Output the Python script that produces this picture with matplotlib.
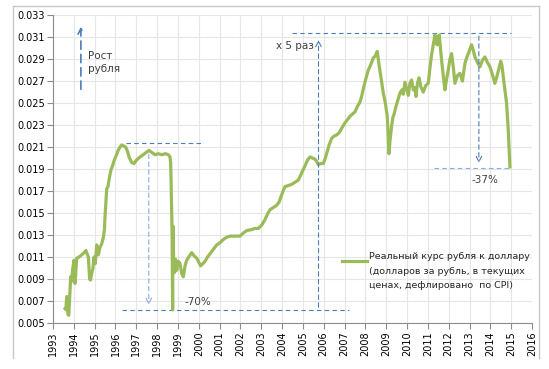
import matplotlib
matplotlib.use("Agg")
import matplotlib.pyplot as plt
from matplotlib.lines import Line2D

years = [
    1993.58, 1993.62, 1993.66, 1993.70, 1993.72, 1993.76, 1993.80, 1993.85, 1993.90, 1993.94,
    1994.01, 1994.06, 1994.10, 1994.14, 1994.25, 1994.38, 1994.50, 1994.58, 1994.70, 1994.76,
    1994.80, 1994.86, 1994.92, 1994.97, 1995.03, 1995.10, 1995.18, 1995.26, 1995.34, 1995.42,
    1995.47, 1995.50, 1995.55, 1995.58, 1995.64, 1995.69, 1995.78, 1995.86, 1995.94, 1996.05,
    1996.13, 1996.22, 1996.30, 1996.40, 1996.49, 1996.58, 1996.65, 1996.78, 1996.89, 1997.00,
    1997.18, 1997.40, 1997.61, 1997.75, 1997.90, 1998.05, 1998.22, 1998.40, 1998.54, 1998.62,
    1998.65, 1998.67, 1998.70, 1998.72, 1998.745, 1998.76, 1998.78, 1998.80, 1998.84, 1998.88,
    1998.94, 1999.02, 1999.10, 1999.18, 1999.26, 1999.34, 1999.42, 1999.52, 1999.66, 1999.78,
    1999.90, 2000.09, 2000.20, 2000.30, 2000.42, 2000.54, 2000.70, 2000.86, 2001.02, 2001.18,
    2001.34, 2001.50, 2001.75, 2001.98, 2002.15, 2002.30, 2002.55, 2002.70, 2002.86, 2003.02,
    2003.18, 2003.30, 2003.42, 2003.58, 2003.74, 2003.86, 2003.95, 2004.05, 2004.14, 2004.30,
    2004.46, 2004.62, 2004.78, 2004.86, 2004.98, 2005.10, 2005.22, 2005.34, 2005.46, 2005.58,
    2005.66, 2005.74, 2005.86, 2005.98, 2006.06, 2006.14, 2006.26, 2006.38, 2006.50, 2006.62,
    2006.74, 2006.86, 2007.02, 2007.14, 2007.26, 2007.38, 2007.50, 2007.62, 2007.74, 2007.82,
    2007.90, 2008.02, 2008.14, 2008.26, 2008.38, 2008.48, 2008.57, 2008.62, 2008.67, 2008.76,
    2008.86, 2008.96, 2009.05, 2009.10, 2009.13, 2009.18, 2009.26, 2009.32, 2009.38, 2009.47,
    2009.55, 2009.66, 2009.75, 2009.82, 2009.90, 2009.98, 2010.06, 2010.14, 2010.22, 2010.30,
    2010.38, 2010.43, 2010.50, 2010.58, 2010.66, 2010.78, 2010.90, 2011.02, 2011.10, 2011.18,
    2011.26, 2011.34, 2011.40, 2011.45, 2011.50, 2011.55, 2011.60, 2011.66, 2011.74, 2011.82,
    2011.90, 2011.98, 2012.06, 2012.14, 2012.22, 2012.30, 2012.42, 2012.54, 2012.66, 2012.78,
    2012.86, 2012.94, 2013.02, 2013.10, 2013.18, 2013.26, 2013.38, 2013.50, 2013.62, 2013.74,
    2013.86, 2013.98, 2014.10, 2014.22, 2014.30, 2014.38, 2014.46, 2014.50, 2014.56, 2014.62,
    2014.70, 2014.78, 2014.86, 2014.90, 2014.94,
]
rate = [
    0.0063, 0.0062, 0.0074, 0.0073, 0.0058, 0.0057, 0.0072, 0.0092, 0.0088, 0.0098,
    0.0107, 0.0086, 0.0098, 0.0109, 0.0110, 0.0112, 0.0114, 0.0116, 0.0110, 0.0090,
    0.0089, 0.0095, 0.0100, 0.0110, 0.0104, 0.0121, 0.0112, 0.0119, 0.0122, 0.0128,
    0.0135, 0.0147, 0.0162, 0.0172, 0.0174, 0.0180, 0.0189, 0.0193, 0.0198, 0.0203,
    0.0207, 0.0210, 0.0212, 0.0211, 0.0210, 0.0206, 0.0201, 0.0196, 0.0195, 0.0198,
    0.0201, 0.0204, 0.0207, 0.0205, 0.0203, 0.0204, 0.0203, 0.0204, 0.0203, 0.0201,
    0.0196, 0.0180, 0.0150, 0.0130, 0.0062, 0.0138, 0.0118, 0.0104, 0.0096, 0.0108,
    0.0098, 0.0106, 0.0104, 0.0095, 0.0092, 0.0102, 0.0107, 0.0110, 0.0114, 0.0111,
    0.0109, 0.0102, 0.0104, 0.0106, 0.0110, 0.0113, 0.0117, 0.0121, 0.0123, 0.0126,
    0.0128, 0.0129, 0.0129, 0.0129, 0.0132, 0.0134, 0.0135, 0.0136, 0.0136, 0.0139,
    0.0144, 0.0149, 0.0153, 0.0155, 0.0157, 0.0160, 0.0165, 0.0170, 0.0174, 0.0175,
    0.0176, 0.0178, 0.0180, 0.0183, 0.0188, 0.0193, 0.0198, 0.0201, 0.0200, 0.0199,
    0.0197, 0.0194, 0.0195, 0.0195, 0.0199, 0.0204, 0.0212, 0.0218, 0.0220, 0.0221,
    0.0223, 0.0227, 0.0232, 0.0235, 0.0238, 0.0240, 0.0242, 0.0247, 0.0251, 0.0256,
    0.0263, 0.0272, 0.0280, 0.0285, 0.0291, 0.0293, 0.0297, 0.0290, 0.0283, 0.0272,
    0.0259, 0.0250, 0.0238, 0.0220, 0.0204, 0.0215, 0.0229, 0.0237, 0.0240, 0.0247,
    0.0252, 0.0259, 0.0262, 0.0258, 0.0269, 0.0263, 0.0257, 0.0268, 0.0271, 0.0262,
    0.0264, 0.0256, 0.0268, 0.0273, 0.0265, 0.0260, 0.0266, 0.0268, 0.0282, 0.0294,
    0.0303, 0.0312, 0.0305, 0.0303, 0.0311, 0.0312, 0.0301, 0.0289, 0.0275, 0.0262,
    0.0272, 0.0280, 0.0290, 0.0295, 0.0283, 0.0268, 0.0275, 0.0277, 0.0270, 0.0286,
    0.0291, 0.0295, 0.0299, 0.0303, 0.0298, 0.0292, 0.0287, 0.0283, 0.0289, 0.0292,
    0.0287, 0.0283, 0.0276, 0.0268, 0.0273, 0.0279, 0.0285, 0.0288, 0.0284, 0.0274,
    0.0262, 0.0250, 0.0226, 0.0210, 0.0192,
]
year_ticks = list(range(1993, 2017))
rate_ticks = [0.005, 0.007, 0.009, 0.011, 0.013, 0.015, 0.017, 0.019, 0.021,
              0.023, 0.025, 0.027, 0.029, 0.031, 0.033]
legend_label = ("Реальный курс рубля к доллару\n"
                "(долларов за рубль, в текущих\n"
                "ценах, дефлировано  по CPI)")

GREEN = "#9bbb59"
BLUE = "#4a7ebb"
LIGHT_BLUE = "#8faadc"

fig = plt.figure(figsize=(5.49, 3.69), dpi=100)
ax = fig.add_axes([0.0965, 0.1247, 0.8725, 0.8343])

ax.plot(years, rate, color=GREEN, lw=2.3, solid_joinstyle="round", zorder=3)

ax.set_xlim(1993, 2016)
ax.set_ylim(0.005, 0.033)
ax.set_xticks(year_ticks)
ax.set_xticklabels([str(y) for y in year_ticks], rotation=90, fontsize=7)
ax.set_yticks(rate_ticks)
ax.set_yticklabels([f"{v:.3f}" for v in rate_ticks], fontsize=7)
ax.grid(True, color="#e6e6e6", lw=0.8)
ax.set_axisbelow(True)
for s in ["top", "right"]:
    ax.spines[s].set_visible(False)
for s in ["left", "bottom"]:
    ax.spines[s].set_color("#8c8c8c")
ax.tick_params(axis="both", length=4, width=0.8, color="#8c8c8c", pad=2)

dash = dict(color=BLUE, lw=0.8, ls=(0, (4, 3)))
arrow = dict(arrowstyle="->", color=BLUE, lw=0.8, ls=(0, (4, 3)))

# "Рост рубля" arrow
ax.annotate("", xy=(1994.34, 0.0322), xytext=(1994.34, 0.0260),
            arrowprops=dict(arrowstyle="->", color=BLUE, lw=1.2, ls=(0, (5, 3))))
ax.text(1994.7, 0.0287, "Рост\nрубля", fontsize=7.5, color="#404040",
        va="center", ha="left", linespacing=1.4)

# 1998 crash
ax.plot([1996.5, 2000.2], [0.02135, 0.02135], **dash)
ax.annotate("", xy=(1997.6, 0.0064), xytext=(1997.6, 0.0206),
            arrowprops=dict(arrowstyle="->", color=LIGHT_BLUE, lw=0.8, ls=(0, (4, 3))))
ax.plot([1996.3, 2007.2], [0.00618, 0.00618], **dash)
ax.text(1999.3, 0.0069, "-70%", fontsize=7.5, color="#404040", ha="left", va="center")

# x5 growth
ax.annotate("", xy=(2005.75, 0.0310), xytext=(2005.75, 0.00618), arrowprops=arrow)
ax.plot([2004.5, 2014.97], [0.03136, 0.03136], **dash)
ax.text(2005.55, 0.0302, "x 5 раз", fontsize=7.5, color="#404040", ha="right", va="center")

# 2014 fall
ax.annotate("", xy=(2013.45, 0.0193), xytext=(2013.45, 0.03136), arrowprops=arrow)
ax.plot([2011.3, 2014.95], [0.0191, 0.0191], color=LIGHT_BLUE, lw=0.8, ls=(0, (4, 3)))
ax.text(2013.75, 0.0180, "-37%", fontsize=7.5, color="#404040", ha="center", va="center")

# legend key and text, drawn by hand so the key sits on the first line
ax.add_line(Line2D([0.603, 0.655], [0.202, 0.202], color=GREEN, lw=2.3,
                   transform=ax.transAxes))
ax.text(0.659, 0.202 + 0.027, legend_label, transform=ax.transAxes, fontsize=6.8,
        color="#262626", ha="left", va="top", linespacing=1.75)

# chart frame
frame = dict(color="#c8c8c8", lw=1.0, transform=fig.transFigure)
fig.add_artist(Line2D([0.0237, 0.0237], [0.030, 0.984], **frame))
fig.add_artist(Line2D([0.0237, 0.982], [0.984, 0.984], **frame))
fig.add_artist(Line2D([0.982, 0.982], [0.030, 0.984], **frame))

fig.savefig("out.png", dpi=100)
